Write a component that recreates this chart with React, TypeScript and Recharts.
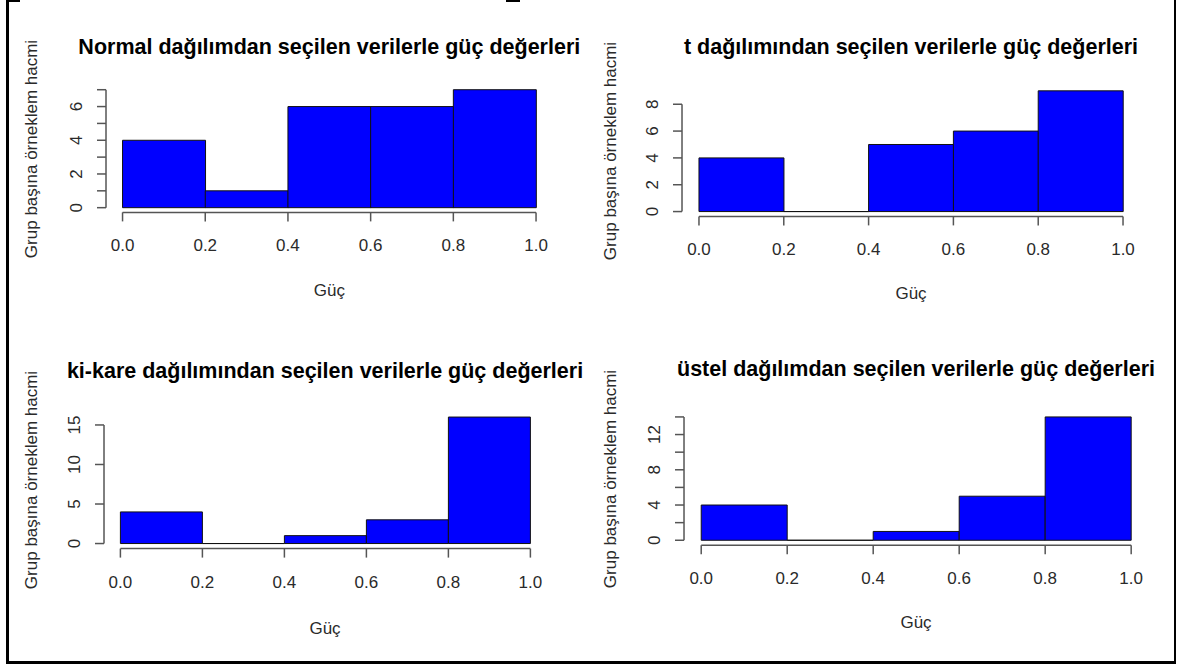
import { ComposedChart, Bar, XAxis, YAxis, ReferenceLine } from 'recharts'

// histogram bins (Güç), shared by all four panels
const binEdges = [0, 0.2, 0.4, 0.6, 0.8, 1.0]
const xTicks = [0, 0.2, 0.4, 0.6, 0.8, 1.0]

// counts per bin
const normalCounts = [4, 1, 6, 6, 7]
const tCounts = [4, 0, 5, 6, 9]
const chiCounts = [4, 0, 1, 3, 16]
const expCounts = [4, 0, 1, 5, 14]

// y ticks and which of them carry a label
const normalYTicks = [0, 1, 2, 3, 4, 5, 6, 7]
const normalYLabels = [0, 2, 4, 6]
const tYTicks = [0, 2, 4, 6, 8]
const tYLabels = [0, 2, 4, 6, 8]
const chiYTicks = [0, 5, 10, 15]
const chiYLabels = [0, 5, 10, 15]
const expYTicks = [0, 2, 4, 6, 8, 10, 12, 14]
const expYLabels = [0, 4, 8, 12]

const titles = [
  'Normal dağılımdan seçilen verilerle güç değerleri',
  't dağılımından seçilen verilerle güç değerleri',
  'ki-kare dağılımından seçilen verilerle güç değerleri',
  'üstel dağılımdan seçilen verilerle güç değerleri',
]
const X_LABEL = 'Güç'
const Y_LABEL = 'Grup başına örneklem hacmi'

const FONT = "'Liberation Sans', Arial, sans-serif"
const AXIS = '#555'
const TXT = '#2a2a2a'
const YW = 60 // y axis width
const XH = 60 // x axis height

// plot boxes in page pixels (R plot region incl. 4% padding)
const layouts = [
  { l: 106, t: 85.3, r: 552.6, b: 212.7, titleY: 47, yLabX: 31, xLabY: 290 },
  { l: 682, t: 86.1, r: 1140, b: 216.5, titleY: 47, yLabX: 610, xLabY: 293 },
  { l: 103.6, t: 412, r: 546.4, b: 548.6, titleY: 371, yLabX: 31, xLabY: 628 },
  { l: 683.8, t: 412.4, r: 1148.2, b: 545.6, titleY: 369, yLabX: 610, xLabY: 622 },
]

function HistRect(p: any) {
  const { x, y, width, height } = p
  return <path d={`M${x},${y}h${width}v${height}h${-width}Z`} fill="#0000FF" stroke="#111" strokeWidth={1} />
}

function XTick({ x, y, payload }: any) {
  return (
    <text x={x} y={y + 12} textAnchor="middle" fill={TXT} fontSize={17} fontFamily={FONT}>
      {Number(payload.value).toFixed(1)}
    </text>
  )
}

function makeYTick(labels: number[]) {
  return ({ x, y, payload }: any) => {
    if (!labels.includes(payload.value)) return <g />
    return (
      <text x={x} y={y} transform={`rotate(-90 ${x} ${y})`} textAnchor="middle" fill={TXT} fontSize={17} fontFamily={FONT}>
        {payload.value}
      </text>
    )
  }
}

function Panel({ idx, counts, yTicks, yLabels }: { idx: number; counts: number[]; yTicks: number[]; yLabels: number[] }) {
  const L = layouts[idx]
  const data = counts.map((c, i) => ({ mid: (binEdges[i] + binEdges[i + 1]) / 2, count: c }))
  const max = Math.max(...counts)
  const span = binEdges[binEdges.length - 1] - binEdges[0]
  const xDomain = [binEdges[0] - 0.04 * span, binEdges[binEdges.length - 1] + 0.04 * span]
  const yDomain = [-0.04 * max, 1.04 * max]
  const w = L.r - L.l + YW + 10
  const h = L.b - L.t + 10 + XH
  const cx = (L.l + L.r) / 2
  const cy = (L.t + L.b) / 2
  return (
    <>
      <div style={{ position: 'absolute', left: cx, top: L.titleY, transform: 'translate(-50%,-50%)', whiteSpace: 'nowrap', fontFamily: FONT, fontWeight: 700, fontSize: 21.5, lineHeight: '22px', color: '#000' }}>
        {titles[idx]}
      </div>
      <div style={{ position: 'absolute', left: L.yLabX, top: cy, transform: 'translate(-50%,-50%) rotate(-90deg)', whiteSpace: 'nowrap', fontFamily: FONT, fontSize: 17, lineHeight: '17px', color: TXT }}>
        {Y_LABEL}
      </div>
      <div style={{ position: 'absolute', left: cx, top: L.xLabY, transform: 'translate(-50%,-50%)', whiteSpace: 'nowrap', fontFamily: FONT, fontSize: 17, lineHeight: '17px', color: TXT }}>
        {X_LABEL}
      </div>
      <div style={{ position: 'absolute', left: L.l - YW, top: L.t - 10 }}>
        <ComposedChart width={w} height={h} data={data} margin={{ top: 10, right: 10, bottom: 0, left: 0 }} barCategoryGap={0} barGap={0}>
          <XAxis dataKey="mid" type="number" domain={xDomain} ticks={xTicks} interval={0} height={XH}
            axisLine={false} tickLine={{ stroke: AXIS, strokeWidth: 1.5 }} tickSize={9} tickMargin={18} tick={<XTick />} />
          <YAxis type="number" domain={yDomain} ticks={yTicks} interval={0} width={YW}
            axisLine={false} tickLine={{ stroke: AXIS, strokeWidth: 1.5 }} tickSize={9} tickMargin={15} tick={makeYTick(yLabels)} />
          <Bar dataKey="count" shape={<HistRect />} isAnimationActive={false} />
          <ReferenceLine ifOverflow="visible" stroke={AXIS} strokeWidth={1.5}
            segment={[{ x: xTicks[0], y: yDomain[0] }, { x: xTicks[xTicks.length - 1], y: yDomain[0] }]} />
          <ReferenceLine ifOverflow="visible" stroke={AXIS} strokeWidth={1.5}
            segment={[{ x: xDomain[0], y: yTicks[0] }, { x: xDomain[0], y: yTicks[yTicks.length - 1] }]} />
        </ComposedChart>
      </div>
    </>
  )
}

export default function App() {
  return (
    <div style={{ position: 'absolute', left: 0, top: 0, width: 1177, height: 666, background: '#fff', overflow: 'hidden' }}>
      {/* frame */}
      <div style={{ position: 'absolute', left: 6, top: 0, width: 1170, height: 664, boxSizing: 'border-box', borderLeft: '3px solid #000', borderRight: '2px solid #000', borderBottom: '3px solid #000' }} />
      <div style={{ position: 'absolute', left: 6, top: 0, width: 14, height: 2, background: '#000' }} />
      <div style={{ position: 'absolute', left: 506, top: 0, width: 14, height: 2, background: '#000' }} />
      <Panel idx={0} counts={normalCounts} yTicks={normalYTicks} yLabels={normalYLabels} />
      <Panel idx={1} counts={tCounts} yTicks={tYTicks} yLabels={tYLabels} />
      <Panel idx={2} counts={chiCounts} yTicks={chiYTicks} yLabels={chiYLabels} />
      <Panel idx={3} counts={expCounts} yTicks={expYTicks} yLabels={expYLabels} />
    </div>
  )
}
